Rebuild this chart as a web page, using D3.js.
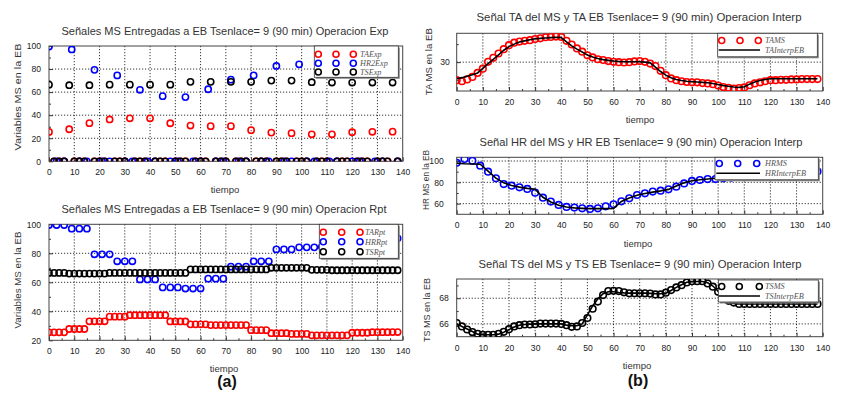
<!DOCTYPE html>
<html><head><meta charset="utf-8">
<script src="https://cdn.jsdelivr.net/npm/d3@7"></script>
<style>body{margin:0;background:#fff}svg{display:block}</style>
</head><body>
<svg id="c" width="841" height="396"></svg>
<script>
// ---------------- DATA ----------------
const tMS2 = d3.range(0, 139, 2);   // MS times for TA / TS
const tMS3 = d3.range(0, 139, 3);   // MS times for HR
// values delivered to EB (sampled every 8 for TA/TS, every 9 for HR)
const TAsamples = [25.5, 27.8, 33.1, 36.3, 37.3, 37.3, 33.0, 31.0, 30.5, 30.5, 27.0, 24.9, 24.4, 23.4, 23.4, 25.2, 25.6, 25.7];
const TSsamples = [66.5, 66.0, 66.0, 66.5, 66.5, 66.5, 66.5, 68.9, 68.9, 68.9, 68.9, 70.0, 70.0, 68.6, 68.3, 68.3, 68.3, 68.3];
const HRsamples = [99.5, 97.0, 79.3, 74.5, 62.0, 56.5, 55.7, 62.5, 70.8, 74.5, 82.7, 84.1, 84.5, 86.0, 88.0, 90.3];

const TA_MS = [25.0,24.7,25.2,25.9,27.0,28.2,30.1,31.2,32.4,33.6,
  34.7,35.4,35.7,35.9,36.1,36.4,36.6,36.9,37.0,37.1,
  37.0,35.9,34.9,33.8,32.9,31.9,31.3,30.8,30.6,30.3,
  30.1,30.0,29.9,30.0,30.2,30.3,30.1,29.6,28.9,27.6,
  26.4,25.5,25.0,24.7,24.5,24.4,24.4,24.2,24.1,23.9,
  23.5,23.1,22.9,22.7,22.8,23.0,23.6,24.1,24.4,24.7,
  25.0,25.0,25.1,25.1,25.2,25.2,25.3,25.3,25.3,25.3];
const TA_InterpEB = [25.4,25.7,26.1,26.5,27.0,28.3,29.6,30.8,32.0,33.3,
  34.3,35.0,35.6,35.9,36.2,36.5,36.6,36.7,36.8,36.9,
  36.8,35.6,34.5,33.6,32.8,32.0,31.4,31.0,30.7,30.5,
  30.3,30.2,30.1,30.1,30.1,30.1,30.0,29.8,28.6,27.4,
  26.4,25.7,25.2,24.9,24.7,24.6,24.5,24.4,24.3,24.1,
  23.8,23.5,23.3,23.1,23.0,23.2,23.9,24.5,24.9,25.2,
  25.4,25.4,25.4,25.4,25.4,25.4,25.4,25.4,25.4,25.4];

const HR_MS = [98.4,101.9,100.3,95.6,90.0,83.8,78.4,76.9,75.3,73.8,70.3,65.6,
  61.9,58.8,56.9,56.3,55.6,55.0,55.6,57.5,59.4,62.2,65.0,68.1,
  69.7,71.3,72.2,73.4,75.9,79.0,81.3,82.2,83.1,83.1,83.8,84.5,
  85.0,85.5,86.0,86.5,87.0,87.5,88.0,88.5,89.0,89.5,90.2];
const HR_InterpEB = [98.0,97.5,97.2,97.0,90.5,84.0,79.5,77.0,75.5,74.3,73.5,66.0,
  61.5,58.5,56.8,56.0,55.6,55.3,55.3,55.3,55.5,62.0,65.2,67.8,
  69.5,70.8,72.0,73.4,76.5,79.5,81.5,82.5,83.2,83.8,84.2,84.6,
  85.0,85.5,86.0,86.5,87.0,87.5,88.0,88.5,89.0,89.5,90.0];

const TS_MS = [66.07,65.8,65.56,65.36,65.23,65.15,65.15,65.15,65.23,65.38,
  65.59,65.8,65.9,65.95,65.95,65.97,66.02,66.02,66.02,66.02,
  66.0,65.9,65.77,65.8,66.07,66.46,67.18,67.74,68.25,68.56,
  68.58,68.56,68.46,68.38,68.38,68.38,68.38,68.36,68.3,68.3,
  68.43,68.64,68.84,69.02,69.23,69.33,69.33,69.33,69.15,68.9,
  68.5,68.1,67.8,67.66,67.56,67.56,67.56,67.56,67.56,67.56,
  67.56,67.56,67.56,67.56,67.56,67.56,67.56,67.56,67.56,67.56];
const TS_InterpEB = [66.0,65.8,65.6,65.4,65.2,65.15,65.15,65.15,65.2,65.35,
  65.55,65.75,65.9,65.95,65.98,66.0,66.0,66.0,66.0,66.0,
  66.0,65.9,65.85,65.85,66.0,66.7,67.4,67.95,68.35,68.5,
  68.5,68.45,68.42,68.4,68.4,68.4,68.4,68.38,68.35,68.35,
  68.4,68.6,68.85,69.05,69.25,69.3,69.3,69.3,69.2,68.95,
  68.55,68.1,67.75,67.6,67.55,67.55,67.55,67.55,67.55,67.55,
  67.55,67.55,67.55,67.55,67.55,67.55,67.55,67.55,67.55,67.55];

const xTickLabels = [0,10,20,30,40,50,60,70,80,90,100,110,120,130,140];
const xMinorTicks = d3.range(5, 140, 10);

// Exp: value only at delivery instants, 0 otherwise; Rpt: value held until next delivery
const TAExp = tMS2.map(t => t % 8 === 0 ? TAsamples[t / 8] : 0);
const TSExp = tMS2.map(t => t % 8 === 0 ? TSsamples[t / 8] : 0);
const HRExp = tMS3.map(t => t % 9 === 0 ? HRsamples[t / 9] : 0);
const TARpt = tMS2.map(t => TAsamples[Math.floor(t / 8)]);
const TSRpt = tMS2.map(t => TSsamples[Math.floor(t / 8)]);
const HRRpt = tMS3.map(t => HRsamples[Math.floor(t / 9)]);

// ---------------- DRAW ----------------
const svg = d3.select('#c');
const SANS = "'Liberation Sans', Arial, sans-serif";
const SERIF = "'Liberation Serif', 'DejaVu Serif', serif";

function panel(p) {
  const x = d3.scaleLinear().domain([0, 140]).range([p.x0, p.x1]);
  const y = d3.scaleLinear().domain(p.yDomain).range([p.yBot, p.yTop]);
  const g = svg.append('g');
  const cid = 'clip' + p.id;
  svg.append('clipPath').attr('id', cid).append('rect')
    .attr('x', p.x0).attr('y', p.yTop).attr('width', p.x1 - p.x0).attr('height', p.yBot - p.yTop);

  // grid
  g.selectAll('.vg').data(xTickLabels.filter(d => d > 0 && d < 140)).enter().append('line')
    .attr('x1', d => x(d)).attr('x2', d => x(d)).attr('y1', p.yTop).attr('y2', p.yBot)
    .attr('stroke', '#000').attr('stroke-width', 0.8).attr('stroke-dasharray', '1.2,1.8');
  g.selectAll('.hg').data(p.gridY).enter().append('line')
    .attr('x1', p.x0).attr('x2', p.x1).attr('y1', d => y(d)).attr('y2', d => y(d))
    .attr('stroke', '#000').attr('stroke-width', 0.8).attr('stroke-dasharray', '1.2,1.8');

  // axes (inward ticks)
  g.append('g').attr('transform', `translate(0,${p.yBot})`)
    .call(d3.axisBottom(x).tickValues(xTickLabels).tickSize(-4).tickSizeOuter(0).tickPadding(p.xPad).tickFormat(d3.format('d')));
  g.append('g').attr('transform', `translate(0,${p.yBot})`)
    .call(d3.axisBottom(x).tickValues(xMinorTicks).tickSize(-2).tickSizeOuter(0).tickFormat(''));
  g.append('g').attr('transform', `translate(${p.x0},0)`)
    .call(d3.axisLeft(y).tickValues(p.yTicks).tickSize(-4).tickSizeOuter(0).tickPadding(p.yPad).tickFormat(d3.format('d')));
  g.append('g').attr('transform', `translate(${p.x0},0)`)
    .call(d3.axisLeft(y).tickValues(p.yMinor).tickSize(-2).tickSizeOuter(0).tickFormat(''));
  g.selectAll('.domain').remove();
  g.selectAll('.tick line').attr('stroke', '#333');
  g.selectAll('.tick text').attr('font-family', SANS).attr('font-size', 8.6).attr('fill', '#222');

  // frame
  g.append('rect').attr('x', p.x0).attr('y', p.yTop).attr('width', p.x1 - p.x0).attr('height', p.yBot - p.yTop)
    .attr('fill', 'none').attr('stroke', '#444').attr('stroke-width', 1);

  // titles / labels
  g.append('text').attr('x', p.titleX).attr('y', p.titleY).attr('text-anchor', 'middle')
    .attr('font-family', SANS).attr('font-size', 10.5).attr('fill', '#333')
    .attr('textLength', p.titleLen).attr('lengthAdjust', 'spacingAndGlyphs').text(p.title);
  g.append('text').attr('x', p.xlabX).attr('y', p.xlabY).attr('text-anchor', 'middle')
    .attr('font-family', SANS).attr('font-size', 9.5).attr('fill', '#333').text('tiempo');
  g.append('text').attr('transform', `translate(${p.ylabX},${p.ylabY}) rotate(-90)`)
    .attr('text-anchor', 'middle').attr('font-family', SANS).attr('font-size', 9.5).attr('fill', '#333')
    .attr('textLength', p.ylabLen).attr('lengthAdjust', 'spacingAndGlyphs').text(p.ylab);

  const plot = g.append('g').attr('clip-path', `url(#${cid})`);
  return {x, y, plot, g};
}

function circles(P, ts, vs, color, r) {
  P.plot.append('g').selectAll('circle').data(ts.map((t, i) => [t, vs[i]])).enter().append('circle')
    .attr('cx', d => P.x(d[0])).attr('cy', d => P.y(d[1])).attr('r', r || 3.1)
    .attr('fill', 'none').attr('stroke', color).attr('stroke-width', 1.6);
}
function line(P, ts, vs) {
  P.plot.append('path').datum(ts.map((t, i) => [t, vs[i]]))
    .attr('d', d3.line().x(d => P.x(d[0])).y(d => P.y(d[1])))
    .attr('fill', 'none').attr('stroke', '#000').attr('stroke-width', 1.6);
}
function legend(L) {
  const g = svg.append('g');
  g.append('rect').attr('x', L.x + 1.5).attr('y', L.y + 1.5).attr('width', L.w).attr('height', L.h).attr('fill', '#888');
  g.append('rect').attr('x', L.x).attr('y', L.y).attr('width', L.w).attr('height', L.h)
    .attr('fill', '#fff').attr('stroke', '#333').attr('stroke-width', 0.8);
  L.items.forEach((it, i) => {
    const yy = L.rows[i];
    if (it.color) {
      L.mx.forEach(mx => g.append('circle').attr('cx', mx).attr('cy', yy).attr('r', 3)
        .attr('fill', 'none').attr('stroke', it.color).attr('stroke-width', 1.6));
    } else {
      g.append('line').attr('x1', L.mx[0] - 3).attr('x2', L.lx2).attr('y1', yy).attr('y2', yy)
        .attr('stroke', '#000').attr('stroke-width', 1.6);
    }
    g.append('text').attr('x', L.tx).attr('y', yy + 2.8).attr('font-family', SERIF).attr('font-style', 'italic')
      .attr('font-size', 8.2).attr('fill', '#555').text(it.label);
  });
}

// ---- (a) top: Exp ----
const A1 = panel({id: 'a1', x0: 49, x1: 402.7, yTop: 46, yBot: 161.3, yDomain: [0, 100],
  yTicks: [0, 20, 40, 60, 80, 100], yMinor: [10, 30, 50, 70, 90], gridY: [20, 40, 60, 80],
  xPad: 8, yPad: 8,
  title: 'Señales MS Entregadas a EB Tsenlace= 9 (90 min) Operacion Exp', titleX: 225, titleY: 34.5, titleLen: 327,
  xlabX: 225, xlabY: 192.5, ylab: 'Variables MS en la EB', ylabX: 20.5, ylabY: 97, ylabLen: 107});
circles(A1, tMS2, TAExp, '#ff0000');
circles(A1, tMS3, HRExp, '#0000ff');
circles(A1, tMS2, TSExp, '#000000');
legend({x: 314.3, y: 46, w: 84, h: 31.3, rows: [54.3, 63.3, 72], mx: [318.3, 336, 353.3], tx: 360,
  items: [{color: '#ff0000', label: 'TAExp'}, {color: '#0000ff', label: 'HR2Exp'}, {color: '#000', label: 'TSExp'}]});

// ---- (a) bottom: Rpt ----
const A2 = panel({id: 'a2', x0: 49, x1: 402.7, yTop: 224.3, yBot: 340.3, yDomain: [20, 100],
  yTicks: [20, 40, 60, 80, 100], yMinor: [30, 50, 70, 90], gridY: [40, 60, 80],
  xPad: 8, yPad: 8,
  title: 'Señales MS Entregadas a EB Tsenlace= 9 (90 min) Operacion Rpt', titleX: 224, titleY: 213, titleLen: 325,
  xlabX: 224, xlabY: 371.5, ylab: 'Variables MS en la EB', ylabX: 20.5, ylabY: 280, ylabLen: 97});
circles(A2, tMS2, TARpt, '#ff0000');
circles(A2, tMS3, HRRpt, '#0000ff');
circles(A2, tMS2, TSRpt, '#000000');
legend({x: 319.3, y: 224.3, w: 79, h: 34, rows: [232.3, 241.7, 251.7], mx: [323.3, 341.7, 360], tx: 365,
  items: [{color: '#ff0000', label: 'TARpt'}, {color: '#0000ff', label: 'HRRpt'}, {color: '#000', label: 'TSRpt'}]});

// ---- (b) TA ----
const B1 = panel({id: 'b1', x0: 456.7, x1: 822.7, yTop: 33.3, yBot: 91, yDomain: [22, 38],
  yTicks: [30], yMinor: [25, 35], gridY: [30], xPad: 8, yPad: 7,
  title: 'Señal TA del MS y TA EB Tsenlace= 9 (90 min) Operacion Interp', titleX: 639, titleY: 20.5, titleLen: 325,
  xlabX: 640, xlabY: 122.5, ylab: 'TA MS en la EB', ylabX: 431.5, ylabY: 61.7, ylabLen: 67});
circles(B1, tMS2, TA_MS, '#ff0000', 3.3);
line(B1, tMS2, TA_InterpEB);
legend({x: 717.7, y: 33.3, w: 99.6, h: 23.5, rows: [40.5, 50], mx: [721.7, 740, 758.3], tx: 765, lx2: 760,
  items: [{color: '#ff0000', label: 'TAMS'}, {label: 'TAInterpEB'}]});

// ---- (b) HR ----
const B2 = panel({id: 'b2', x0: 456.7, x1: 822.7, yTop: 157.3, yBot: 214.3, yDomain: [50, 103.5],
  yTicks: [60, 80, 100], yMinor: [70, 90], gridY: [60, 80, 100], xPad: 8, yPad: 13,
  title: 'Señal HR del MS y HR EB Tsenlace= 9 (90 min) Operacion Interp', titleX: 641, titleY: 145.5, titleLen: 323,
  xlabX: 638, xlabY: 246.8, ylab: 'HR MS en la EB', ylabX: 428.5, ylabY: 180, ylabLen: 60});
circles(B2, tMS3, HR_MS, '#0000ff', 3.3);
line(B2, tMS3, HR_InterpEB);
legend({x: 715, y: 157.3, w: 103.3, h: 22.5, rows: [163.5, 173.3], mx: [719.3, 737.7, 756.7], tx: 765, lx2: 760,
  items: [{color: '#0000ff', label: 'HRMS'}, {label: 'HRInterpEB'}]});

// ---- (b) TS ----
const B3 = panel({id: 'b3', x0: 456.7, x1: 822.7, yTop: 279, yBot: 336.7, yDomain: [65, 69.5],
  yTicks: [66, 68], yMinor: [67, 69], gridY: [66, 68], xPad: 8, yPad: 8,
  title: 'Señal TS del MS y TS EB Tsenlace= 9 (90 min) Operacion Interp', titleX: 640, titleY: 268, titleLen: 323,
  xlabX: 637, xlabY: 368.5, ylab: 'TS MS en la EB', ylabX: 430, ylabY: 310, ylabLen: 64});
circles(B3, tMS2, TS_MS, '#000000', 3.3);
line(B3, tMS2, TS_InterpEB);
legend({x: 718.3, y: 280, w: 100, h: 22, rows: [286.5, 296], mx: [721.7, 739.3, 759.3], tx: 765, lx2: 760,
  items: [{color: '#000', label: 'TSMS'}, {label: 'TSInterpEB'}]});

// sub-figure labels
svg.append('text').attr('x', 227).attr('y', 387).attr('text-anchor', 'middle').attr('font-family', SANS)
  .attr('font-weight', 'bold').attr('font-size', 16).attr('fill', '#111').text('(a)');
svg.append('text').attr('x', 638).attr('y', 386).attr('text-anchor', 'middle').attr('font-family', SANS)
  .attr('font-weight', 'bold').attr('font-size', 16).attr('fill', '#111').text('(b)');
</script>
</body></html>
